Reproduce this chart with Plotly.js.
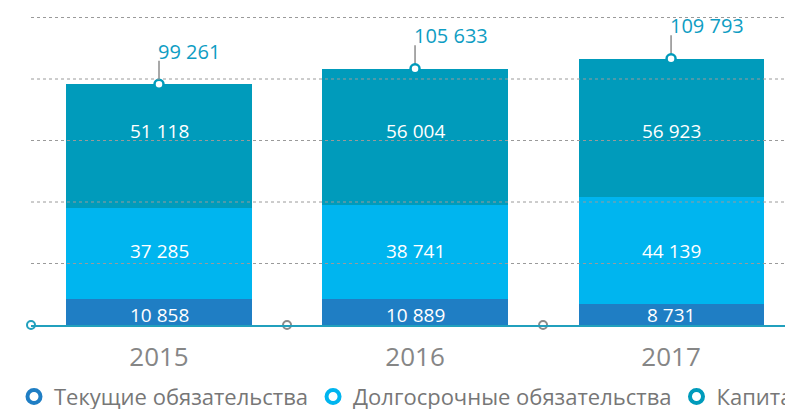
<!DOCTYPE html>
<html>
<head>
<meta charset="utf-8">
<script src="https://cdn.plot.ly/plotly-3.0.1.min.js"></script>
<style>
html,body{margin:0;padding:0;overflow:hidden;background:#fff;width:785px;height:409px;}
#chart{width:1100px;height:409px;}
</style>
</head>
<body>
<div id="chart"></div>
<script>
// ---- data ----
const years = ['2015', '2016', '2017'];
const currentLiab = [10858, 10889, 8731];
const longTermLiab = [37285, 38741, 44139];
const capital = [51118, 56004, 56923];
const totals = [99261, 105633, 109793];
const seriesNames = ['Текущие обязательства', 'Долгосрочные обязательства', 'Капитал'];

// ---- styles ----
const colCurrent = '#1f7ec4';
const colLong = '#00b5ef';
const colCapital = '#009bbb';
const colTeal = '#0e9dc3';
const FONT = 'Open Sans, Noto Sans, sans-serif';
const W = 1100;
const L = 31;
const VISIBLE_W = 785;

const xs = years.map((_, i) => i);
const fmt = n => String(n).replace(/\B(?=(\d{3})+(?!\d))/g, ' ');

// label rows (fixed rows like the reference)
const rowY = {current: 4000, longTerm: 30400, capital: 79800};
const leader = 9700;

const bar = (y, color) => ({
  type: 'bar', x: xs, y: y, width: 0.723,
  marker: {color: color, line: {width: 0}},
  hoverinfo: 'none', showlegend: false
});

const traces = [
  bar(currentLiab, colCurrent),
  bar(longTermLiab, colLong),
  bar(capital, colCapital),
  {
    type: 'scatter', mode: 'markers', x: xs, y: totals, showlegend: false, hoverinfo: 'none',
    cliponaxis: false,
    marker: {symbol: 'circle', size: 9, color: '#fff', line: {color: colCapital, width: 2.5}},
    error_y: {type: 'constant', symmetric: false, value: leader, valueminus: 0,
              color: '#8c8c8c', thickness: 1.5, width: 0}
  },
  {
    type: 'scatter', mode: 'markers', x: [-0.5, 0.5, 1.5], y: [0, 0, 0], showlegend: false,
    hoverinfo: 'none', cliponaxis: false,
    marker: {symbol: 'circle', size: 8, color: '#fff',
             line: {color: ['#21a0bd', '#8a8a8a', '#8a8a8a'], width: 2}}
  }
];
[colCurrent, colLong, colCapital].forEach((c, i) => {
  traces.push({
    type: 'scatter', mode: 'markers', x: [null], y: [null], name: seriesNames[i],
    marker: {symbol: 'circle-open', size: 13, color: c, line: {width: 4, color: c}}
  });
});

const annotations = [];
xs.forEach(i => {
  annotations.push({x: i, y: rowY.current, text: fmt(currentLiab[i]), showarrow: false,
    font: {family: FONT, size: 19, color: '#fff'}, yanchor: 'middle'});
  annotations.push({x: i, y: rowY.longTerm, text: fmt(longTermLiab[i]), showarrow: false,
    font: {family: FONT, size: 19, color: '#fff'}, yanchor: 'middle'});
  annotations.push({x: i, y: rowY.capital, text: fmt(capital[i]), showarrow: false,
    font: {family: FONT, size: 19, color: '#fff'}, yanchor: 'middle'});
  annotations.push({x: i, y: totals[i] + leader, text: fmt(totals[i]), showarrow: false,
    font: {family: FONT, size: 20, color: colTeal}, xanchor: 'left', yanchor: 'bottom',
    xshift: -3, yshift: -6});
});

const gridStep = 25360;
const yMax = 134020;
const shapes = [];
for (let v = gridStep; v < yMax; v += gridStep) {
  shapes.push({type: 'line', xref: 'paper', x0: 0, x1: 1, yref: 'y', y0: v, y1: v,
    layer: 'above', line: {color: '#9a9a9a', width: 1, dash: 'dot'}});
}

const layout = {
  width: W, height: 409,
  margin: {l: L, r: 0, t: 0, b: 84},
  paper_bgcolor: '#fff', plot_bgcolor: '#fff',
  barmode: 'stack', bargap: 0,
  showlegend: true,
  font: {family: FONT},
  xaxis: {
    domain: [0, (VISIBLE_W - L) / (W - L)],
    range: [-0.5, 2.445], tickvals: xs, ticktext: years, showgrid: false, zeroline: false,
    showline: true, linecolor: '#21a0bd', linewidth: 2, ticks: '',
    tickfont: {family: FONT, size: 26, color: '#868686'}, ticklabelstandoff: 8,
    fixedrange: true
  },
  yaxis: {
    range: [0, yMax], showgrid: false, zeroline: false, showticklabels: false,
    ticks: '', fixedrange: true
  },
  legend: {
    orientation: 'h', xref: 'container', yref: 'container', x: 14 / W, y: 0.03,
    xanchor: 'left', yanchor: 'middle', bgcolor: 'rgba(0,0,0,0)',
    font: {family: FONT, size: 22, color: '#777'},
    itemclick: false, itemdoubleclick: false, traceorder: 'normal'
  },
  shapes: shapes,
  annotations: annotations
};

Plotly.newPlot('chart', traces, layout, {displayModeBar: false, staticPlot: true});
</script>
</body>
</html>
